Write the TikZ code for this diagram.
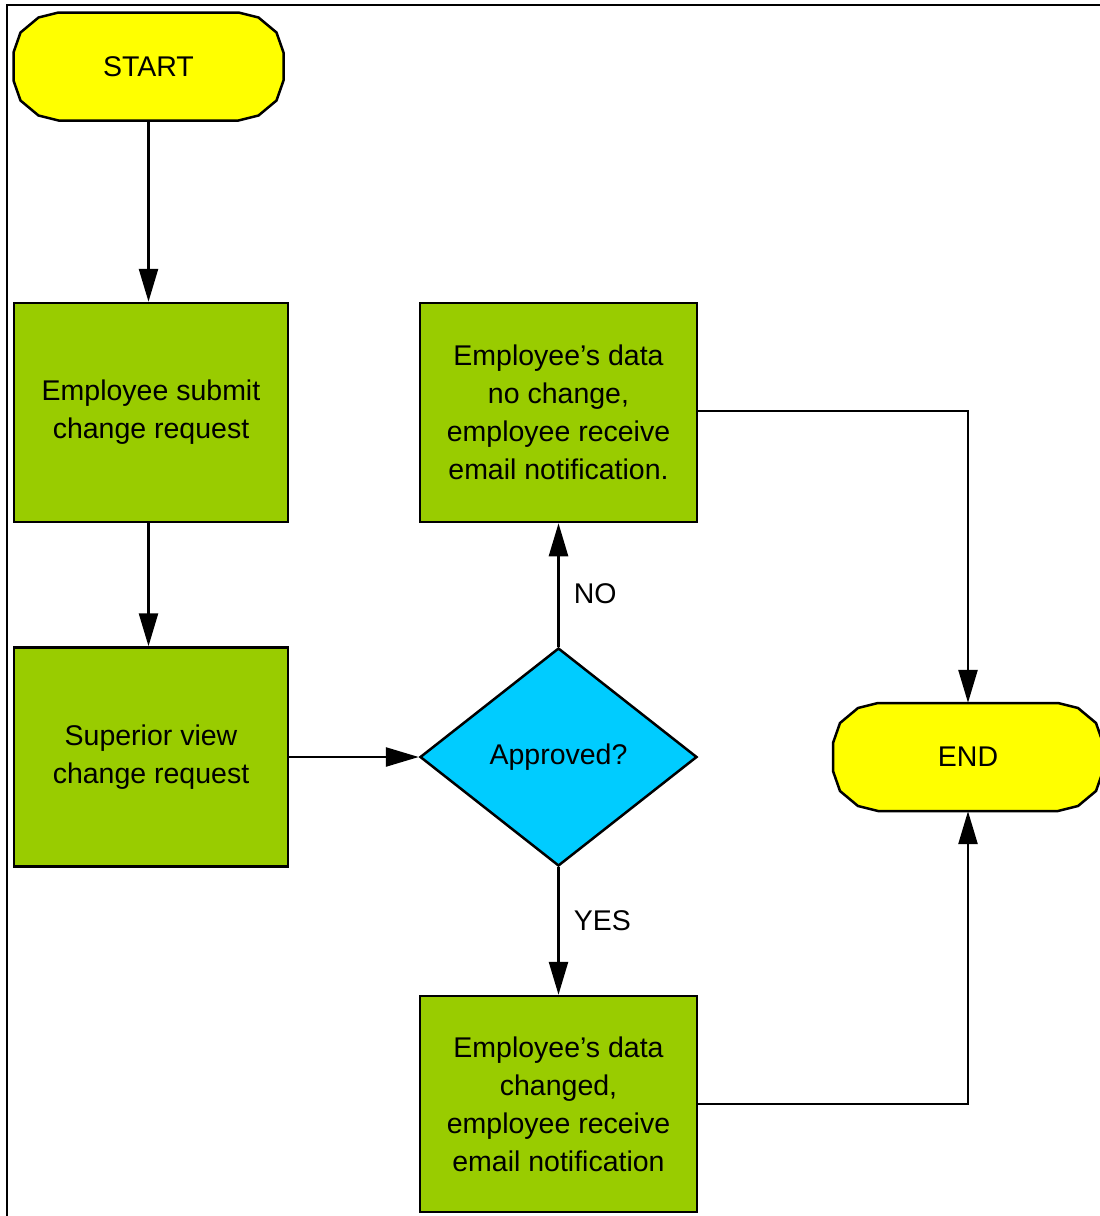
\documentclass[tikz,border=0pt]{standalone}
\usepackage{fontspec}
\setmainfont{Liberation Sans}
\usetikzlibrary{arrows.meta,shapes.geometric}
\definecolor{termyellow}{HTML}{FFFF00}
\definecolor{procgreen}{HTML}{99CC00}
\definecolor{deccyan}{HTML}{00CCFF}
\begin{document}
\begin{tikzpicture}[x=1pt,y=-1pt,
  every node/.style={font=\fontsize{28.5}{38}\selectfont, text=black},
  termtext/.style={draw=none, minimum width=270pt, minimum height=108pt, inner sep=0pt},
  procbox/.style={draw=black, line width=2.5pt, fill=procgreen, minimum width=274pt, minimum height=219pt, align=center, inner sep=0pt},
  decbox/.style={draw=black, line width=2.5pt, fill=deccyan, diamond, minimum width=277pt, minimum height=218pt, aspect=1.27, inner sep=0pt},
  flow/.style={line width=2.6pt, -{Triangle[length=33pt, width=19pt]}},
  lbl/.style={inner sep=0pt},
  termshape/.pic={\draw[line width=2.5pt, fill=termyellow]
    (-90,-54) -- (90,-54) -- (110,-49) -- (128,-34) -- (135,-14) -- (135,14) -- (128,34) -- (110,49) -- (90,54)
    -- (-90,54) -- (-110,49) -- (-128,34) -- (-135,14) -- (-135,-14) -- (-128,-34) -- (-110,-49) -- cycle;}
]
\useasboundingbox (0,0) rectangle (1100,1216);
% frame
\draw[line width=2pt] (7,1216) -- (7,5) -- (1100,5);

% terminators
\pic at (148.5,66.5) {termshape};
\node[termtext] (start) at (148.5,66.5) {START};
\pic at (968,757) {termshape};
\node[termtext] (end) at (968,757) {END};

% process boxes
\node[procbox] (submit) at (151,412.5) {Employee submit\\change request};
\node[procbox] (view) at (151,757) {Superior view\\change request};
\node[procbox, minimum width=277pt, minimum height=219pt] (nochange) at (558.5,412.5) {Employee's data\\no change,\\employee receive\\email notification.};
\node[procbox, minimum width=277pt, minimum height=216pt] (changed) at (558.5,1104) {Employee's data\\changed,\\employee receive\\email notification};

% decision
\node[decbox] (approved) at (558.5,757) {};
\node[inner sep=0pt] (apptext) at (558.5,757) {Approved?};

% connectors
\draw[flow] (start.south) -- (start.south |- submit.north);
\draw[flow] (start.south |- submit.south) -- (start.south |- view.north);
\draw[flow] (view.east) -- (approved.west);
\draw[flow] (approved.north) -- node[lbl, pos=0.43, right=14pt] (nolabel) {NO} (nochange.south);
\draw[flow] (approved.south) -- node[lbl, pos=0.42, right=14pt] (yeslabel) {YES} (changed.north);
\draw[flow] (nochange.east |- 0,411) -| (end.north);
\draw[flow] (changed.east |- 0,1104) -| (end.south);
\end{tikzpicture}
\end{document}
